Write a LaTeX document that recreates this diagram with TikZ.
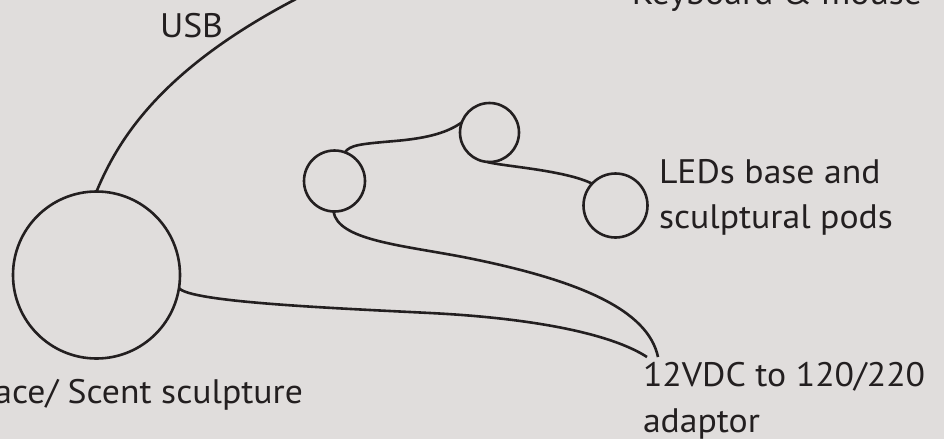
\documentclass[tikz,border=0pt]{standalone}
\usepackage{fontspec}
\setmainfont[FakeStretch=1.05]{PT Sans}
\definecolor{bgc}{RGB}{224,221,220}
\definecolor{ink}{RGB}{35,31,32}
\begin{document}
\begin{tikzpicture}[x=1pt,y=-1pt,
  pod/.style={circle,draw=ink,line width=2.6pt,inner sep=0pt,outer sep=0pt},
  wire/.style={draw=ink,line width=2.6pt},
  lbl/.style={inner sep=0pt,outer sep=0pt,text=ink,font=\fontsize{34}{45}\selectfont}]
\path[fill=bgc,use as bounding box] (0,0) rectangle (944,439);
\clip (0,0) rectangle (944,439);
% pods
\node[pod,minimum size=167pt] (big) at (96.5,275) {};
\node[pod,minimum size=61pt] (c1) at (334.5,181) {};
\node[pod,minimum size=59pt] (c2) at (489.5,132.5) {};
\node[pod,minimum size=64pt] (c3) at (615.5,205.5) {};
% free ends
\coordinate (usbend) at (296,-1);
\coordinate (adU) at (658,357);
\coordinate (adL) at (647,357);
% labels
\node[lbl,anchor=base west] (usb) at (160,37) {USB};
\node[lbl,anchor=base east] (kbd) at (922,4.5) {Keyboard \& mouse};
\node[lbl,anchor=base west] (leda) at (659,183) {LEDs base and};
\node[lbl,anchor=base west] (ledb) at (659,228) {sculptural pods};
\node[lbl,anchor=base west] (ada) at (643,386) {12VDC to 120/220};
\node[lbl,anchor=base west] (adb) at (643,432) {adaptor};
\node[lbl,anchor=base east] (scent) at (303,403) {ace/ Scent sculpture};
% wires
\path[wire] (big.90) .. controls (118,140) and (160,70) .. (usbend);
\path[wire] (c1.70) .. controls (350,145) and (360,144) .. (395,141)
   .. controls (430,138) and (448,132) .. (c2.160);
\path[wire] (c2.-95) .. controls (500,166) and (565,170) .. (c3.137);
\path[wire] (c1.-92) .. controls (338,240) and (400,245) .. (463,257)
   .. controls (580,280) and (648,310) .. (adU);
\path[wire] (big.-9) .. controls (190,302) and (330,308) .. (430,313)
   .. controls (530,318) and (610,333) .. (adL);
\end{tikzpicture}
\end{document}
